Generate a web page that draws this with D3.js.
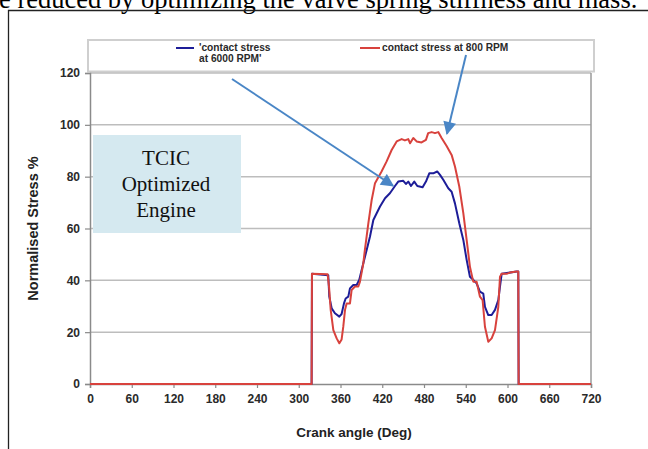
<!DOCTYPE html>
<html>
<head>
<meta charset="utf-8">
<script src="https://cdn.jsdelivr.net/npm/d3@7"></script>
<style>
  html, body { margin: 0; padding: 0; background: #fff; }
  svg { display: block; }
</style>
</head>
<body>
<svg id="chart" width="648" height="449"></svg>
<script>
// Crank angle ticks (deg) and stress ticks (%)
const xTicks = [0, 60, 120, 180, 240, 300, 360, 420, 480, 540, 600, 660, 720];
const yTicks = [0, 20, 40, 60, 80, 100, 120];

// Normalised contact stress at 800 RPM: [crank angle, stress %]
const stress800 = [
  [0, 0], [318.5, 0], [319, 42.5], [341.5, 42.3], [343.5, 37.6], [345.9, 28.6],
  [349.7, 20.8], [354.5, 17.6], [358.3, 15.7], [361.6, 17.2], [364, 22.1],
  [366.5, 28.6], [368.8, 31.1], [373.6, 31.1], [376, 36.3], [380.8, 37.6],
  [385.6, 37.6], [388, 39.5], [392.8, 46.6], [395, 51.7], [400, 62], [404.8, 71],
  [409.6, 77.5], [419, 82], [426.3, 85.9], [433.5, 90.3], [440.7, 93.6],
  [447.9, 94.5], [452.6, 94], [457.4, 94.5], [460, 92.9], [464.6, 94.9],
  [469.4, 93.6], [476.5, 93.2], [482.8, 94.2], [486, 96.8], [491, 97.2],
  [495.8, 96.8], [500.5, 97.2], [505.3, 94.9], [512.5, 91.8], [519.7, 88.4],
  [524.5, 83.9], [530.7, 76.2], [536.5, 65.9], [541.3, 55.6], [546, 45.3],
  [550.8, 39.5], [555.6, 39.5], [560.4, 33.7], [564.2, 32.4], [567.6, 22.1],
  [572.4, 16.3], [577.2, 17.6], [582, 20.8], [586.8, 29.8], [589.2, 41.4],
  [591.6, 42.5], [598.8, 42.5], [603.5, 43], [613.1, 43.4], [615.5, 43.4],
  [616, 0], [720, 0]
];

// Normalised contact stress at 6000 RPM: [crank angle, stress %]
const stress6000 = [
  [0, 0], [318.5, 0], [319, 42.5], [342.4, 42], [343.9, 33.7], [347.3, 29.2],
  [352, 27.3], [358.3, 26], [361.6, 27], [365, 31.1], [367.4, 33], [371.2, 33.7],
  [373.6, 36.9], [378.4, 38.2], [383.2, 38.2], [387, 40.2], [392.8, 46.6],
  [397.6, 51.7], [402.4, 56.9], [407.2, 63.3], [412, 65.9], [416.8, 68.5],
  [424, 71.7], [431, 73.6], [438.3, 76.4], [443, 78.1], [450.2, 78.4],
  [454, 77.2], [457.4, 78.1], [461.3, 76.4], [466, 78.1], [470.4, 76.4],
  [478, 75.9], [482.8, 78.1], [487.6, 81.3], [493.3, 81.3], [499, 82],
  [503, 80.7], [507.7, 78.8], [514.9, 75.5], [519.7, 74.2], [524.5, 69.7],
  [530.7, 62], [536.5, 55.6], [541.3, 47.9], [546, 41.4], [550.8, 40.2],
  [555.6, 38.8], [560.4, 35.6], [565.2, 34.9], [567.6, 29.8], [572.4, 26.6],
  [577.2, 26.6], [582, 28.6], [586.8, 32.4], [589.2, 37.6], [591.6, 42.5],
  [613.1, 43.4], [615.5, 43.4], [616, 0], [720, 0]
];

// Points the two callout arrows aim at: [crank angle, stress %]
const calloutTargets = [[435.5, 76.5], [513, 96.6]];

const svg = d3.select("#chart");

const x = d3.scaleLinear().domain([0, 720]).range([90, 591]);
const y = d3.scaleLinear().domain([0, 120]).range([384, 73]);

const BOLD = "Arial, 'Liberation Sans', sans-serif";
const SERIF = "'Times New Roman', 'Liberation Serif', serif";

// Caption line running off the top of the figure
svg.append("text")
  .attr("x", -1).attr("y", 7.5)
  .attr("font-family", SERIF).attr("font-size", 26.5)
  .attr("fill", "#000")
  .text("e reduced by optimizing the valve spring stiffness and mass.");

// Figure frame (left and top edges)
svg.append("path")
  .attr("d", "M8.5,449 V10.5 H648")
  .attr("fill", "none").attr("stroke", "#222").attr("stroke-width", 1.3);

// Legend box
svg.append("rect")
  .attr("x", 88).attr("y", 40).attr("width", 506).attr("height", 31.5)
  .attr("fill", "#fff").attr("stroke", "#cfcfcf").attr("stroke-width", 2);

// Horizontal gridlines
svg.append("g").selectAll("line")
  .data(yTicks.filter(d => d > 0))
  .join("line")
  .attr("x1", x(0)).attr("x2", x(720))
  .attr("y1", d => y(d)).attr("y2", d => y(d))
  .attr("stroke", "#bdbdbd").attr("stroke-width", 1.5);

// Right edge of plot area
svg.append("line")
  .attr("x1", x(720)).attr("x2", x(720))
  .attr("y1", y(120)).attr("y2", y(0))
  .attr("stroke", "#9a9a9a").attr("stroke-width", 1.5);

// Y axis
const yAxis = svg.append("g")
  .attr("transform", `translate(${x(0)},0)`)
  .call(d3.axisLeft(y).tickValues(yTicks).tickSize(5).tickPadding(5));
yAxis.select(".domain").attr("stroke", "#8a8a8a").attr("stroke-width", 1.5);
yAxis.selectAll(".tick line").attr("stroke", "#8a8a8a").attr("stroke-width", 1.2);
yAxis.selectAll(".tick text")
  .attr("font-family", BOLD).attr("font-weight", "bold")
  .attr("font-size", 12).attr("fill", "#2a2a2a");

// X axis
const xAxis = svg.append("g")
  .attr("transform", `translate(0,${y(0)})`)
  .call(d3.axisBottom(x).tickValues(xTicks).tickSize(4).tickPadding(6));
xAxis.select(".domain").attr("stroke", "#8a8a8a").attr("stroke-width", 1.5);
xAxis.selectAll(".tick line").attr("stroke", "#8a8a8a").attr("stroke-width", 1.2);
xAxis.selectAll(".tick text")
  .attr("font-family", BOLD).attr("font-weight", "bold")
  .attr("font-size", 12).attr("fill", "#2a2a2a");

// Axis titles
svg.append("text")
  .attr("transform", `translate(38,${(y(0) + y(120)) / 2}) rotate(-90)`)
  .attr("text-anchor", "middle")
  .attr("font-family", BOLD).attr("font-weight", "bold")
  .attr("font-size", 14.5).attr("fill", "#222")
  .text("Normalised Stress %");

svg.append("text")
  .attr("x", 354).attr("y", 437)
  .attr("text-anchor", "middle")
  .attr("font-family", BOLD).attr("font-weight", "bold")
  .attr("font-size", 13.5).attr("fill", "#222")
  .text("Crank angle (Deg)");

// Annotation box
svg.append("rect")
  .attr("x", 93).attr("y", 135).attr("width", 148).attr("height", 98)
  .attr("fill", "#d5e9f0");
svg.append("text")
  .attr("text-anchor", "middle")
  .attr("font-family", SERIF).attr("font-size", 21).attr("fill", "#111")
  .selectAll("tspan")
  .data(["TCIC", "Optimized", "Engine"])
  .join("tspan")
  .attr("x", 166)
  .attr("y", (d, i) => 165 + i * 26)
  .text(d => d);

// Stress curves
const line = d3.line().x(d => x(d[0])).y(d => y(d[1]));

svg.append("path")
  .datum(stress6000)
  .attr("d", line)
  .attr("fill", "none").attr("stroke", "#1d1d98")
  .attr("stroke-width", 2).attr("stroke-linejoin", "round");

svg.append("path")
  .datum(stress800)
  .attr("d", line)
  .attr("fill", "none").attr("stroke", "#d8423d")
  .attr("stroke-width", 2).attr("stroke-linejoin", "round");

// Legend entries
const legend = svg.append("g")
  .attr("font-family", BOLD).attr("font-weight", "bold")
  .attr("font-size", 10.2).attr("fill", "#2a2a2a");
legend.append("line")
  .attr("x1", 176).attr("x2", 194).attr("y1", 48).attr("y2", 48)
  .attr("stroke", "#1d1d98").attr("stroke-width", 2);
legend.append("text").attr("x", 199).attr("y", 51).text("'contact stress");
legend.append("text").attr("x", 199).attr("y", 62).text("at 6000 RPM'");
legend.append("line")
  .attr("x1", 360).attr("x2", 380).attr("y1", 48).attr("y2", 48)
  .attr("stroke", "#d8423d").attr("stroke-width", 2);
legend.append("text").attr("x", 382).attr("y", 51).text("contact stress at 800 RPM");

// Callout arrows from the legend labels to the curves
svg.append("defs").append("marker")
  .attr("id", "head")
  .attr("viewBox", "0 0 10 10")
  .attr("refX", 9).attr("refY", 5)
  .attr("markerWidth", 7.5).attr("markerHeight", 6.5)
  .attr("markerUnits", "strokeWidth")
  .attr("orient", "auto")
  .append("path")
  .attr("d", "M0,0 L10,5 L0,10 Z")
  .attr("fill", "#4a86c6");

const calloutStarts = [[232, 79], [466, 55]];
svg.append("g").selectAll("line")
  .data(calloutTargets)
  .join("line")
  .attr("x1", (d, i) => calloutStarts[i][0])
  .attr("y1", (d, i) => calloutStarts[i][1])
  .attr("x2", d => x(d[0]))
  .attr("y2", d => y(d[1]))
  .attr("stroke", "#4a86c6").attr("stroke-width", 2)
  .attr("marker-end", "url(#head)");
</script>
</body>
</html>
